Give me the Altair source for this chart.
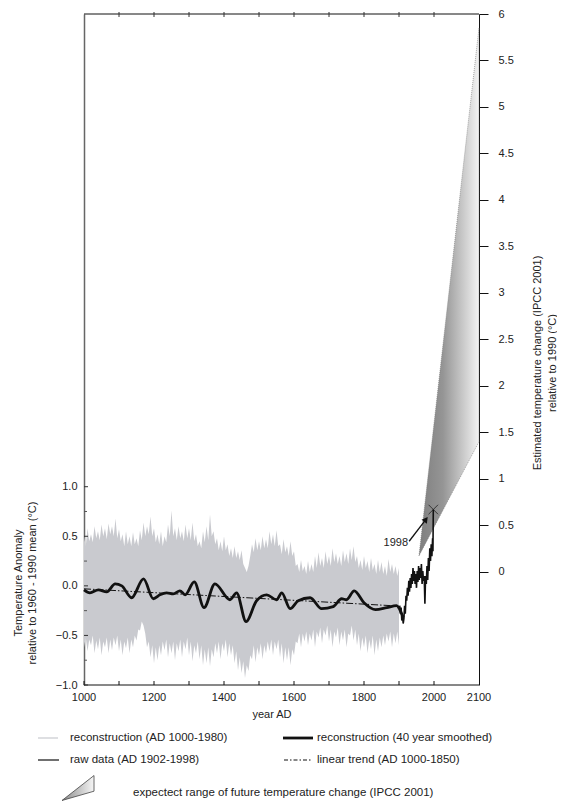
import altair as alt
import pandas as pd

FONT = "Liberation Sans"
TXT = "#222222"

# ---------------- data ----------------
band_years = list(range(1000, 1901, 5))
band_upper = [
    0.50, 0.40, 0.58, 0.45, 0.52, 0.44, 0.60, 0.48, 0.55, 0.46,
    0.62, 0.50, 0.58, 0.47, 0.63, 0.52, 0.60, 0.50, 0.68, 0.48,
    0.57, 0.45, 0.52, 0.40, 0.55, 0.42, 0.50, 0.40, 0.54, 0.42,
    0.48, 0.40, 0.56, 0.46, 0.64, 0.50, 0.60, 0.52, 0.70, 0.50,
    0.58, 0.44, 0.52, 0.42, 0.55, 0.40, 0.50, 0.44, 0.62, 0.50,
    0.76, 0.50, 0.58, 0.46, 0.60, 0.48, 0.55, 0.45, 0.62, 0.48,
    0.58, 0.46, 0.64, 0.45, 0.52, 0.40, 0.45, 0.38, 0.55, 0.44,
    0.60, 0.46, 0.72, 0.50, 0.55, 0.42, 0.48, 0.36, 0.45, 0.35,
    0.50, 0.36, 0.42, 0.30, 0.38, 0.28, 0.40, 0.28, 0.35, 0.26,
    0.36, 0.22, 0.18, 0.14, 0.20, 0.30, 0.42, 0.34, 0.48, 0.36,
    0.45, 0.36, 0.50, 0.38, 0.47, 0.38, 0.55, 0.42, 0.52, 0.40,
    0.56, 0.40, 0.42, 0.32, 0.47, 0.34, 0.40, 0.30, 0.45, 0.30,
    0.35, 0.20, 0.22, 0.14, 0.26, 0.15, 0.20, 0.12, 0.25, 0.14,
    0.22, 0.14, 0.30, 0.18, 0.34, 0.20, 0.28, 0.18, 0.35, 0.22,
    0.30, 0.20, 0.38, 0.24, 0.33, 0.22, 0.30, 0.20, 0.36, 0.24,
    0.33, 0.22, 0.38, 0.26, 0.40, 0.24, 0.30, 0.18, 0.26, 0.16,
    0.30, 0.18, 0.25, 0.14, 0.28, 0.16, 0.22, 0.12, 0.26, 0.14,
    0.24, 0.12, 0.20, 0.10, 0.27, 0.14, 0.22, 0.12, 0.20, 0.10,
    0.18]
band_lower = [
    -0.62, -0.52, -0.66, -0.54, -0.60, -0.50, -0.68, -0.55, -0.64, -0.52,
    -0.70, -0.56, -0.62, -0.52, -0.68, -0.54, -0.65, -0.52, -0.60, -0.50,
    -0.66, -0.54, -0.70, -0.56, -0.63, -0.52, -0.68, -0.54, -0.62, -0.50,
    -0.55, -0.44, -0.45, -0.36, -0.40, -0.48, -0.62, -0.56, -0.72, -0.60,
    -0.78, -0.62, -0.75, -0.60, -0.70, -0.56, -0.65, -0.54, -0.72, -0.58,
    -0.68, -0.56, -0.75, -0.58, -0.66, -0.54, -0.72, -0.56, -0.64, -0.52,
    -0.70, -0.56, -0.76, -0.60, -0.68, -0.56, -0.74, -0.60, -0.80, -0.64,
    -0.78, -0.62, -0.81, -0.64, -0.72, -0.58, -0.68, -0.56, -0.74, -0.58,
    -0.66, -0.54, -0.72, -0.58, -0.70, -0.60, -0.78, -0.66, -0.85, -0.72,
    -0.88, -0.76, -0.93, -0.80, -0.86, -0.70, -0.74, -0.60, -0.77, -0.62,
    -0.70, -0.58, -0.74, -0.60, -0.68, -0.56, -0.66, -0.54, -0.70, -0.56,
    -0.64, -0.54, -0.72, -0.58, -0.78, -0.62, -0.75, -0.62, -0.80, -0.64,
    -0.70, -0.56, -0.58, -0.48, -0.62, -0.48, -0.56, -0.46, -0.60, -0.48,
    -0.55, -0.44, -0.62, -0.46, -0.52, -0.42, -0.58, -0.44, -0.50, -0.40,
    -0.56, -0.44, -0.62, -0.46, -0.52, -0.42, -0.60, -0.46, -0.55, -0.44,
    -0.62, -0.48, -0.50, -0.40, -0.55, -0.44, -0.60, -0.48, -0.66, -0.52,
    -0.62, -0.50, -0.68, -0.54, -0.64, -0.50, -0.70, -0.54, -0.66, -0.52,
    -0.62, -0.50, -0.60, -0.48, -0.56, -0.46, -0.62, -0.48, -0.58, -0.46,
    -0.60]

smooth_years = [1000, 1017, 1041, 1065, 1089, 1108, 1136, 1170, 1198, 1217,
                1236, 1255, 1274, 1289, 1315, 1343, 1374, 1417, 1436, 1463,
                1493, 1522, 1550, 1565, 1589, 1612, 1646, 1679, 1712, 1736,
                1750, 1772, 1800, 1833, 1865, 1893, 1905, 1912]
smooth_vals = [-0.04, -0.07, -0.04, -0.06, 0.02, 0.00, -0.12, 0.07, -0.13, -0.09,
               -0.07, -0.08, -0.05, -0.09, 0.04, -0.22, 0.02, -0.14, -0.07, -0.36,
               -0.15, -0.09, -0.14, -0.07, -0.23, -0.15, -0.12, -0.23, -0.21, -0.13,
               -0.14, -0.05, -0.17, -0.24, -0.22, -0.20, -0.26, -0.32]

trend_years = [1000, 1880]
trend_vals = [-0.03, -0.20]

raw_years = [1902, 1904, 1906, 1908, 1910, 1912, 1914, 1916, 1918, 1920,
             1922, 1924, 1926, 1928, 1930, 1932, 1934, 1936, 1938, 1940,
             1942, 1944, 1946, 1948, 1950, 1952, 1954, 1956, 1958, 1960,
             1962, 1964, 1966, 1968, 1970, 1972, 1974, 1976, 1978, 1980,
             1982, 1984, 1986, 1988, 1990, 1992, 1994, 1996, 1997, 1998]
raw_vals = [-0.20, -0.28, -0.22, -0.35, -0.30, -0.38, -0.33, -0.20, -0.28, -0.10,
            -0.15, -0.02, -0.10, 0.05, -0.06, 0.08, -0.02, 0.12, 0.02, 0.18,
            0.05, 0.15, 0.02, 0.12, -0.02, 0.15, 0.04, 0.20, 0.06, 0.18,
            0.08, 0.22, 0.02, 0.15, 0.05, 0.10, -0.18, 0.10, 0.02, 0.20,
            0.06, 0.28, 0.15, 0.38, 0.25, 0.42, 0.30, 0.48, 0.35, 0.77]

wedge_years = [1957, 2100]
wedge_upper = [0.17, 5.85]
wedge_lower = [0.17, 1.40]

x_label_values = [1000, 1200, 1400, 1600, 1800, 2000, 2100]
x_label_texts = ["1000", "1200", "1400", "1600", "1800", "2000", "2100"]
century_ticks = list(range(1000, 2001, 100))
top_ticks = list(range(1100, 2001, 100))
left_label_values = [-1.0, -0.5, 0.0, 0.5, 1.0]
left_minor_values = [-0.75, -0.25, 0.25, 0.75]
right_label_values = [0, 0.5, 1, 1.5, 2, 2.5, 3, 3.5, 4, 4.5, 5, 5.5, 6]

marker_year, marker_val = 1998, 0.77
arrow_tail = (1929, 0.45)
arrow_head = (1977, 0.67)
label_1998 = (1926, 0.43)

# ---------------- scales ----------------
W, H = 395, 671
xs = alt.Scale(domain=[1000, 2000, 2100], range=[0, 350, 395], zero=False, nice=False)
yl = alt.Scale(domain=[-1.0, 5.768], zero=False, nice=False)
yr = alt.Scale(domain=[-1.219, 6.0], zero=False, nice=False)


def X(field):
    return alt.X(field, type="quantitative", scale=xs, axis=None)


def YL(field):
    return alt.Y(field, type="quantitative", scale=yl, axis=None)


band_df = pd.DataFrame({"year": band_years, "upper": band_upper, "lower": band_lower})
smooth_df = pd.DataFrame({"year": smooth_years, "v": smooth_vals})
trend_df = pd.DataFrame({"year": trend_years, "v": trend_vals})
raw_df = pd.DataFrame({"year": raw_years, "v": raw_vals})
wedge_df = pd.DataFrame({"year": wedge_years, "upper": wedge_upper, "lower": wedge_lower})
xlab_df = pd.DataFrame({"year": x_label_values, "t": x_label_texts})
one = pd.DataFrame({"a": [0]})

wedge_grad = alt.LinearGradient(
    gradient="linear",
    stops=[alt.GradientStop(color="#7f7f7f", offset=0),
           alt.GradientStop(color="#959595", offset=0.4),
           alt.GradientStop(color="#f3f3f3", offset=1)],
    x1=0, x2=1, y1=0, y2=0)

wedge = alt.Chart(wedge_df).mark_area(
    color=wedge_grad, stroke="#777777", strokeWidth=0.6, strokeDash=[1, 1]
).encode(
    x=X("year"),
    y=alt.Y("upper:Q", scale=yr,
            axis=alt.Axis(orient="right", values=right_label_values, format="~g", title=None,
                          ticks=True, tickSize=9, tickColor="#111111", tickWidth=1,
                          domain=True, domainColor="#111111", domainWidth=1,
                          labelPadding=10, labelFontSize=11, labelColor=TXT, labelFont=FONT,
                          grid=False, labelFlush=False)),
    y2="lower:Q",
)

band = alt.Chart(band_df).mark_area(color="#c9cacf", opacity=1).encode(
    x=X("year"),
    y=alt.Y("upper:Q", scale=yl,
            axis=alt.Axis(orient="left", values=left_label_values, format=".1f", title=None,
                          ticks=False, tickSize=0, domain=True, domainColor="#666666",
                          domainWidth=1.5, labelPadding=7, labelFontSize=11, labelColor=TXT,
                          labelFont=FONT, grid=False, labelFlush=False)),
    y2="lower:Q",
)

trend = alt.Chart(trend_df).mark_line(color="#111111", strokeWidth=1,
                                      strokeDash=[7, 2, 1.5, 2]).encode(
    x=X("year"), y=YL("v"))

smooth = alt.Chart(smooth_df).mark_line(color="#111111", strokeWidth=2.8,
                                        interpolate="monotone").encode(
    x=X("year"), y=YL("v"))

raw = alt.Chart(raw_df).mark_line(color="#111111", strokeWidth=1.6).encode(
    x=X("year"), y=YL("v"))

# frame, ticks and x labels
bottom_rule = alt.Chart(one).mark_rule(color="#111111", strokeWidth=1).encode(
    x=alt.value(0), x2=alt.value(W), y=alt.value(H))
bottom_ticks = alt.Chart(pd.DataFrame({"year": century_ticks})).mark_rule(
    color="#111111", strokeWidth=1).encode(
    x=X("year"), y=alt.value(H), y2=alt.value(H - 4))
x_labels = alt.Chart(xlab_df).mark_text(
    align="center", baseline="top", font=FONT, fontSize=11, color=TXT).encode(
    x=X("year"), y=alt.value(H + 7), text="t:N")
top_rule = alt.Chart(one).mark_rule(color="#111111", strokeWidth=1).encode(
    x=alt.value(0), x2=alt.value(W), y=alt.value(0))
top_tick = alt.Chart(pd.DataFrame({"year": top_ticks})).mark_rule(
    color="#333333", strokeWidth=1).encode(
    x=X("year"), y=alt.value(-2), y2=alt.value(3))
left_major = alt.Chart(pd.DataFrame({"v": left_label_values})).mark_rule(
    color="#333333", strokeWidth=1).encode(
    y=YL("v"), x=alt.value(0), x2=alt.value(4))
left_minor = alt.Chart(pd.DataFrame({"v": left_minor_values})).mark_rule(
    color="#555555", strokeWidth=1).encode(
    y=YL("v"), x=alt.value(0), x2=alt.value(3))

# annotation
marker = alt.Chart(pd.DataFrame({"year": [marker_year], "v": [marker_val]})).mark_point(
    shape="M -1 -1 L 1 1 M -1 1 L 1 -1", size=90, filled=False, color="#111111",
    strokeWidth=1).encode(x=X("year"), y=YL("v"))
arrow_line = alt.Chart(pd.DataFrame({"y0": [arrow_tail[0]], "v0": [arrow_tail[1]],
                                     "y1": [arrow_head[0]], "v1": [arrow_head[1]]})).mark_rule(
    color="#111111", strokeWidth=1.3).encode(
    x=X("y0"), x2="y1", y=YL("v0"), y2="v1")
arrow_head_mark = alt.Chart(pd.DataFrame({"year": [arrow_head[0]], "v": [arrow_head[1]]})).mark_point(
    shape="triangle-up", angle=37, size=45, filled=True, color="#111111", opacity=1).encode(
    x=X("year"), y=YL("v"))
txt_1998 = alt.Chart(pd.DataFrame({"year": [label_1998[0]], "v": [label_1998[1]], "t": ["1998"]})).mark_text(
    align="right", baseline="middle", font=FONT, fontSize=11, color=TXT).encode(
    x=X("year"), y=YL("v"), text="t:N")


def label(text, x, y, angle=0, align="center", size=11):
    return alt.Chart(one).mark_text(
        text=text, align=align, baseline="middle", angle=angle, font=FONT,
        fontSize=size, color=TXT).encode(x=alt.value(x), y=alt.value(y))


titles = [
    label("Temperature Anomaly", -65, 569, angle=270),
    label("relative to 1960 - 1990 mean (°C)", -51, 569, angle=270),
    label("Estimated temperature change (IPCC 2001)", 454, 349, angle=270),
    label("relative to 1990 (°C)", 469, 349, angle=270),
    label("year AD", 188, 701),
]


def seg(x0, x1, y, color, width, dash=None):
    kw = dict(color=color, strokeWidth=width)
    if dash:
        kw["strokeDash"] = dash
    return alt.Chart(one).mark_rule(**kw).encode(
        x=alt.value(x0), x2=alt.value(x1), y=alt.value(y))


LF = 11.5
legend = [
    seg(-46, -26, 724, "#c9cacf", 1.2),
    label("reconstruction (AD 1000-1980)", -14, 724, align="left", size=LF),
    seg(-46, -25, 746, "#333333", 1.4),
    label("raw data (AD 1902-1998)", -14, 746, align="left", size=LF),
    seg(199, 229, 724, "#111111", 2.8),
    label("reconstruction (40 year smoothed)", 233, 724, align="left", size=LF),
    seg(200, 228, 746, "#111111", 1, dash=[4, 2, 1.5, 2]),
    label("linear trend (AD 1000-1850)", 233, 746, align="left", size=LF),
    alt.Chart(one).mark_point(
        shape="M -1 0.78 L 1 -0.78 L 1 0.2 Z", size=1024, filled=True,
        fill=alt.LinearGradient(gradient="linear",
                                stops=[alt.GradientStop(color="#8a8a8a", offset=0),
                                       alt.GradientStop(color="#f6f6f6", offset=1)],
                                x1=0, x2=1, y1=0, y2=0),
        stroke="#444444", strokeWidth=0.8, opacity=1).encode(
        x=alt.value(-6), y=alt.value(774)),
    label("expectect range of future temperature change (IPCC 2001)", 49, 779, align="left", size=LF),
]

layers = [wedge, band, trend, smooth, raw, bottom_rule, bottom_ticks, x_labels, top_rule,
          top_tick, left_major, left_minor, marker, arrow_line, arrow_head_mark,
          txt_1998] + titles + legend

chart = alt.layer(*layers).properties(
    width=W, height=H,
    padding={"left": 76, "top": 6, "right": 78, "bottom": 116},
    autosize=alt.AutoSizeParams(type="none"),
).resolve_scale(y="independent").configure_view(stroke=None)

chart.save("out.html", embed_options={"renderer": "svg", "actions": False})
